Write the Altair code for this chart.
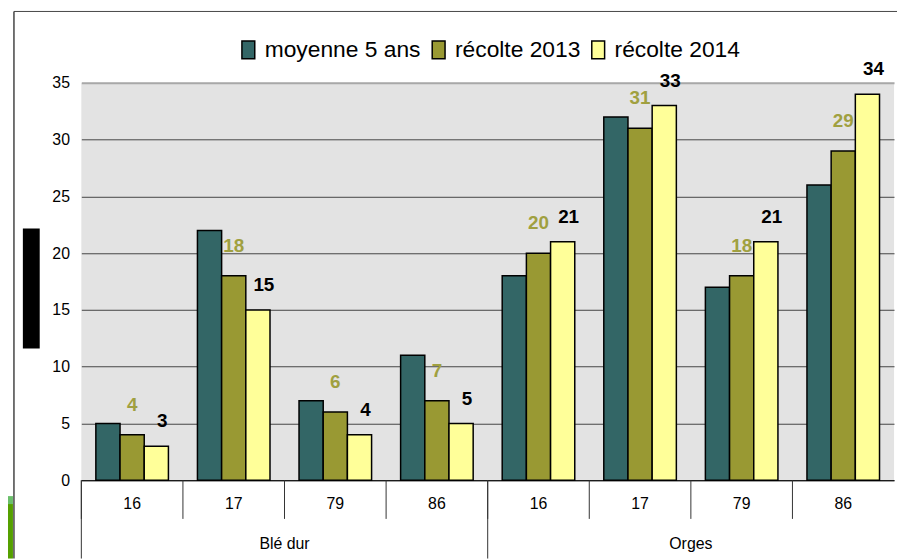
import altair as alt
import pandas as pd

groups = ["Blé dur", "Orges"]
codes = ["16", "17", "79", "86"]
series = ["moyenne 5 ans", "récolte 2013", "récolte 2014"]
moyenne = [5, 22, 7, 11, 18, 32, 17, 26]
recolte2013 = [4, 18, 6, 7, 20, 31, 18, 29]
recolte2014 = [3, 15, 4, 5, 21, 33, 21, 34]
colors = ["#336666", "#999933", "#FFFF99"]
y_ticks = [0, 5, 10, 15, 20, 25, 30, 35]

keys = [f"{g}|{c}" for g in groups for c in codes]
rows = []
for s, vals in zip(series, [moyenne, recolte2013, recolte2014]):
    for k, v in zip(keys, vals):
        rows.append({"key": k, "series": s, "value": v})
df = pd.DataFrame(rows)

W, H = 820, 401
FONT = "Liberation Sans, Arial, sans-serif"
BOTTOM = H + 79

xscale = alt.Scale(domain=keys, paddingInner=0, paddingOuter=0)
offscale = alt.Scale(domain=series, paddingInner=0, paddingOuter=0.6)
yscale = alt.Scale(domain=[0, 35], nice=False)

x_axis = alt.Axis(
    title=None, labelExpr="split(datum.value, '|')[1]", ticks=False,
    domain=True, domainColor="#000000", domainWidth=1, labelFont=FONT,
    labelFontSize=16, labelColor="#000000", labelPadding=24,
    labelBaseline="middle", labelAngle=0, grid=False,
)
y_axis = alt.Axis(
    title=None, values=y_ticks, domain=False, ticks=False, labelFont=FONT,
    labelFontSize=16, labelColor="#000000", labelPadding=12,
    gridColor={"condition": {"test": "datum.value == 35", "value": "#A8A8A8"}, "value": "#444444"},
    gridWidth={"condition": {"test": "datum.value == 35", "value": 2}, "value": 1},
)

legend = alt.Legend(
    title=None, orient="none", direction="horizontal", legendX=157, legendY=-45,
    symbolType="M-0.72,-1H0.72V1H-0.72Z", symbolSize=324,
    symbolStrokeColor="black", symbolStrokeWidth=1.5, labelFont=FONT,
    labelFontSize=23, labelColor="#000000", labelOffset=5, columnPadding=6,
    labelLimit=400,
)

xenc = alt.X("key:N", scale=xscale, sort=keys)
xoff = alt.XOffset("series:N", scale=offscale, sort=series)
yenc = alt.Y("value:Q", scale=yscale)

bars = alt.Chart(df).mark_bar(stroke="black", strokeWidth=1.5).encode(
    x=alt.X("key:N", scale=xscale, axis=x_axis, sort=keys),
    xOffset=xoff,
    y=alt.Y("value:Q", scale=yscale, axis=y_axis),
    color=alt.Color("series:N", scale=alt.Scale(domain=series, range=colors), legend=legend),
)

lab13 = alt.Chart(df[df.series == "récolte 2013"]).mark_text(
    font=FONT, fontSize=19, fontWeight="bold", color="#A0A040", dy=-30, baseline="middle"
).encode(x=xenc, xOffset=xoff, y=yenc, text="value:Q")
lab14 = alt.Chart(df[df.series == "récolte 2014"]).mark_text(
    font=FONT, fontSize=19, fontWeight="bold", color="#000000", dy=-25, dx=6, baseline="middle"
).encode(x=xenc, xOffset=xoff, y=yenc, text="value:Q")

sep_df = pd.DataFrame({"key": keys})
small_sep = alt.Chart(sep_df).mark_rule(color="#333333", strokeWidth=1).encode(
    x=alt.X("key:N", scale=xscale, sort=keys, bandPosition=0),
    y=alt.value(H), y2=alt.value(H + 39),
)
grp_df = pd.DataFrame({"key": [f"{g}|{codes[0]}" for g in groups]})
grp_sep = alt.Chart(grp_df).mark_rule(color="#333333", strokeWidth=1).encode(
    x=alt.X("key:N", scale=xscale, sort=keys, bandPosition=0),
    y=alt.value(H), y2=alt.value(BOTTOM),
)
glab_df = pd.DataFrame({
    "key": [f"{g}|{codes[2]}" for g in groups],
    "label": groups,
})
grp_lab = alt.Chart(glab_df).mark_text(font=FONT, fontSize=16, color="#000000", baseline="middle").encode(
    x=alt.X("key:N", scale=xscale, sort=keys, bandPosition=0),
    y=alt.value(H + 64),
    text="label:N",
)

one = pd.DataFrame({"a": [0]})
frame_top = alt.Chart(one).mark_rule(color="#444444", strokeWidth=1).encode(
    x=alt.value(-68), x2=alt.value(W + 3), y=alt.value(-72)
)
frame_left = alt.Chart(one).mark_rule(color="#444444", strokeWidth=1.5).encode(
    x=alt.value(-68), y=alt.value(-72), y2=alt.value(BOTTOM)
)
black_box = alt.Chart(one).mark_rect(color="#000000").encode(
    x=alt.value(-59), x2=alt.value(-42), y=alt.value(147), y2=alt.value(268)
)
green_light = alt.Chart(one).mark_rect(color="#6ABF6A").encode(
    x=alt.value(-74), x2=alt.value(-69), y=alt.value(417), y2=alt.value(425)
)
green_dark = alt.Chart(one).mark_rect(color="#55A000").encode(
    x=alt.value(-74), x2=alt.value(-69), y=alt.value(425), y2=alt.value(BOTTOM)
)

chart = alt.layer(
    bars, lab13, lab14, small_sep, grp_sep, grp_lab,
    frame_top, frame_left, black_box, green_light, green_dark,
).properties(width=W, height=H, padding=0).configure_view(
    stroke=None, fill="#E3E3E3"
)

chart.save("out.html", embed_options={"renderer": "svg", "actions": False})
